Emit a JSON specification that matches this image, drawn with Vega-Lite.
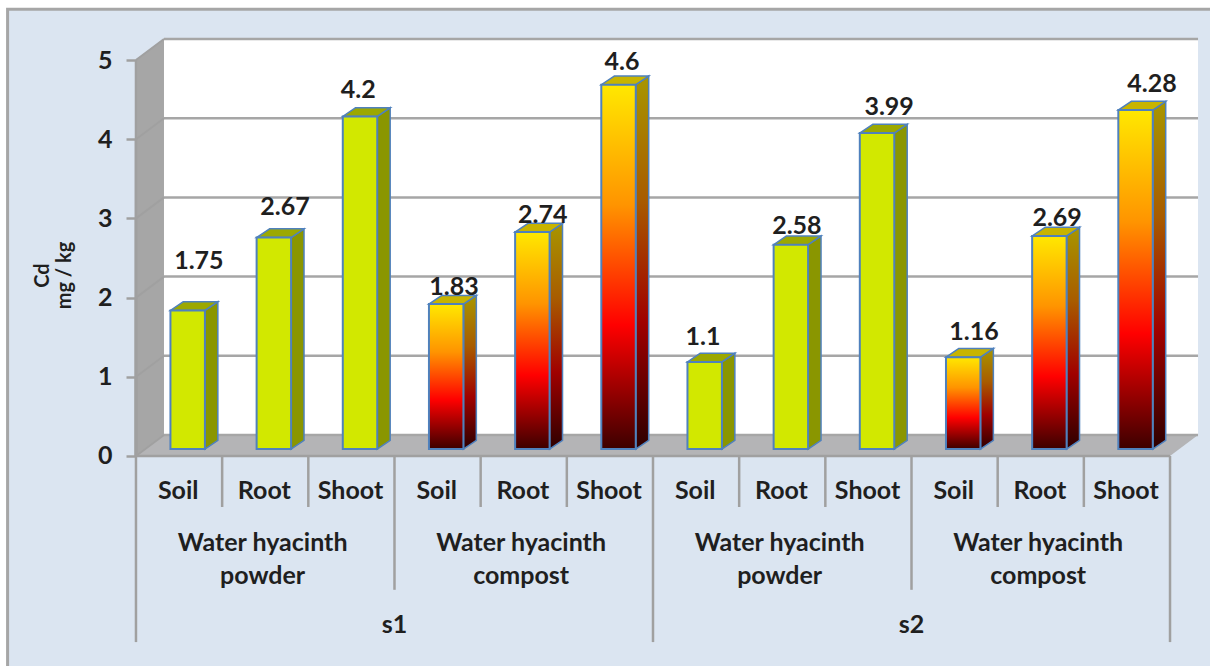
{
  "$schema": "https://vega.github.io/schema/vega-lite/v6.json",
  "width": 1210,
  "height": 666,
  "padding": 0,
  "autosize": {"type": "none"},
  "background": "#ffffff",
  "config": {"view": {"stroke": null}, "text": {"font": "Lato", "fontWeight": "bold", "color": "#1f1f1f"}},
  "resolve": {"axis": {"y": "independent", "x": "independent"}},
  "datasets": {
    "depth": [{"k": 0}, {"k": 1}],
    "levels": [{"level": 0}, {"level": 1}, {"level": 2}, {"level": 3}, {"level": 4}, {"level": 5}],
    "edges": [
      {"edge": 0, "rank": 3}, {"edge": 1, "rank": 1}, {"edge": 2, "rank": 1}, {"edge": 3, "rank": 2},
      {"edge": 4, "rank": 1}, {"edge": 5, "rank": 1}, {"edge": 6, "rank": 3}, {"edge": 7, "rank": 1},
      {"edge": 8, "rank": 1}, {"edge": 9, "rank": 2}, {"edge": 10, "rank": 1}, {"edge": 11, "rank": 1},
      {"edge": 12, "rank": 3}
    ]
  },
  "data": {
    "values": [
      {"site": "s1", "amendment": "Water hyacinth|powder", "kind": "powder", "part": "Soil", "bar": 0, "value": 1.75},
      {"site": "s1", "amendment": "Water hyacinth|powder", "kind": "powder", "part": "Root", "bar": 1, "value": 2.67},
      {"site": "s1", "amendment": "Water hyacinth|powder", "kind": "powder", "part": "Shoot", "bar": 2, "value": 4.2},
      {"site": "s1", "amendment": "Water hyacinth|compost", "kind": "compost", "part": "Soil", "bar": 3, "value": 1.83},
      {"site": "s1", "amendment": "Water hyacinth|compost", "kind": "compost", "part": "Root", "bar": 4, "value": 2.74},
      {"site": "s1", "amendment": "Water hyacinth|compost", "kind": "compost", "part": "Shoot", "bar": 5, "value": 4.6},
      {"site": "s2", "amendment": "Water hyacinth|powder", "kind": "powder", "part": "Soil", "bar": 6, "value": 1.1},
      {"site": "s2", "amendment": "Water hyacinth|powder", "kind": "powder", "part": "Root", "bar": 7, "value": 2.58},
      {"site": "s2", "amendment": "Water hyacinth|powder", "kind": "powder", "part": "Shoot", "bar": 8, "value": 3.99},
      {"site": "s2", "amendment": "Water hyacinth|compost", "kind": "compost", "part": "Soil", "bar": 9, "value": 1.16},
      {"site": "s2", "amendment": "Water hyacinth|compost", "kind": "compost", "part": "Root", "bar": 10, "value": 2.69},
      {"site": "s2", "amendment": "Water hyacinth|compost", "kind": "compost", "part": "Shoot", "bar": 11, "value": 4.28}
    ]
  },
  "transform": [
    {"calculate": "datum.bar + 0.4", "as": "left"},
    {"calculate": "datum.bar + 0.8", "as": "right"},
    {"calculate": "0.088", "as": "base"},
    {"calculate": "datum.value + 0.088", "as": "top"},
    {"calculate": "datum.bar + [0.73,0.73,0.58,0.69,0.72,0.64,0.58,0.67,0.74,0.725,0.69,0.79][datum.bar]", "as": "labelX"},
    {"calculate": "datum.top + [0.62,0.38,0.33,0.215,0.215,0.29,0.32,0.23,0.33,0.32,0.23,0.33][datum.bar]", "as": "labelY"},
    {"calculate": "datum.bar + 0.49", "as": "partX"},
    {"calculate": "-0.44", "as": "partY"}
  ],
  "layer": [
    {
      "data": {"values": [{"panel": "page"}]},
      "transform": [
        {"calculate": "-1.49", "as": "x0"}, {"calculate": "13", "as": "x1"},
        {"calculate": "5.64", "as": "y0"}, {"calculate": "-3", "as": "y1"}
      ],
      "mark": {"type": "rect", "fill": "#dbe5f1", "stroke": "#a6a6a6", "strokeWidth": 3},
      "encoding": {
        "x": {"field": "x0", "type": "quantitative", "scale": {"domain": [-1.578, 12.464], "nice": false, "zero": false}, "axis": null},
        "x2": {"field": "x1"},
        "y": {
          "field": "y0",
          "type": "quantitative",
          "scale": {"domain": [-2.652, 5.758], "nice": false, "zero": false},
          "axis": null
        },
        "y2": {"field": "y1"}
      }
    },
    {
      "data": {"values": [{"panel": "wall"}]},
      "transform": [
        {"calculate": "0.325", "as": "x0"}, {"calculate": "12.325", "as": "x1"},
        {"calculate": "5.265", "as": "y0"}, {"calculate": "0.265", "as": "y1"}
      ],
      "mark": {"type": "rect", "fill": "#ffffff"},
      "encoding": {
        "x": {"field": "x0", "type": "quantitative", "axis": null},
        "x2": {"field": "x1"},
        "y": {"field": "y0", "type": "quantitative", "axis": null},
        "y2": {"field": "y1"}
      }
    },
    {
      "data": {"name": "depth"},
      "transform": [
        {"calculate": "datum.k * 0.325", "as": "wx"},
        {"calculate": "5 + datum.k * 0.265", "as": "wy"},
        {"calculate": "datum.k * 0.265", "as": "wy2"}
      ],
      "mark": {"type": "area", "fill": "#a6a6a6", "orient": "vertical"},
      "encoding": {
        "x": {"field": "wx", "type": "quantitative", "axis": null},
        "y": {"field": "wy", "type": "quantitative", "axis": null},
        "y2": {"field": "wy2"}
      }
    },
    {
      "data": {"name": "depth"},
      "transform": [
        {"calculate": "datum.k * 0.325", "as": "fx"},
        {"calculate": "12 + datum.k * 0.325", "as": "fx2"},
        {"calculate": "datum.k * 0.265", "as": "fy"}
      ],
      "mark": {"type": "area", "fill": "#b4b4b6", "orient": "horizontal"},
      "encoding": {
        "y": {"field": "fy", "type": "quantitative", "axis": null},
        "x": {"field": "fx", "type": "quantitative", "axis": null},
        "x2": {"field": "fx2"}
      }
    },
    {
      "data": {"name": "levels"},
      "transform": [
        {"calculate": "datum.level + 0.265", "as": "backLevel"},
        {"calculate": "0.325", "as": "x0"}, {"calculate": "12.325", "as": "x1"}
      ],
      "mark": {"type": "rule", "stroke": "#a6a6a6", "strokeWidth": 2.5},
      "encoding": {
        "x": {"field": "x0", "type": "quantitative", "axis": null},
        "x2": {"field": "x1"},
        "y": {"field": "backLevel", "type": "quantitative", "axis": null}
      }
    },
    {
      "data": {"name": "levels"},
      "transform": [
        {"calculate": "datum.level + 0.265", "as": "backLevel"},
        {"calculate": "0", "as": "x0"}, {"calculate": "0.325", "as": "x1"}
      ],
      "mark": {"type": "rule", "stroke": "#a0a0a0", "strokeWidth": 2},
      "encoding": {
        "x": {"field": "x0", "type": "quantitative", "axis": null},
        "x2": {"field": "x1"},
        "y": {"field": "level", "type": "quantitative", "axis": null},
        "y2": {"field": "backLevel"}
      }
    },
    {
      "data": {"name": "levels"},
      "transform": [{"calculate": "0", "as": "x0"}, {"calculate": "0", "as": "y1"}],
      "mark": {"type": "rule", "stroke": "#a0a0a0", "strokeWidth": 2.5},
      "encoding": {
        "x": {"field": "x0", "type": "quantitative", "axis": null},
        "y": {
          "field": "level",
          "type": "quantitative",
          "axis": {
            "zindex": 1,
            "values": [0, 1, 2, 3, 4, 5],
            "format": "d",
            "offset": -136,
            "domain": false,
            "grid": false,
            "ticks": true,
            "tickSize": 10,
            "tickWidth": 2.5,
            "tickColor": "#a0a0a0",
            "labelPadding": 14,
            "labelFont": "Lato",
            "labelFontWeight": "bold",
            "labelFontSize": 25,
            "labelColor": "#1f1f1f",
            "title": ["Cd", "mg / kg"],
            "titleFont": "Lato",
            "titleFontWeight": "bold",
            "titleFontSize": 20,
            "titleColor": "#1f1f1f",
            "titleAngle": 270,
            "titleLineHeight": 22,
            "titleX": -94,
            "titleY": 275,
            "titleAlign": "center",
            "titleBaseline": "middle"
          }
        },
        "y2": {"field": "y1"}
      }
    },
    {
      "data": {"name": "edges"},
      "transform": [
        {"calculate": "[0, -0.644, -1.69, -2.35][datum.rank]", "as": "reach"},
        {"calculate": "0", "as": "y0"}
      ],
      "mark": {"type": "rule", "stroke": "#a0a0a0", "strokeWidth": 2.5},
      "encoding": {
        "x": {"field": "edge", "type": "quantitative", "axis": null},
        "y": {"field": "y0", "type": "quantitative", "axis": null},
        "y2": {"field": "reach"}
      }
    },
    {
      "data": {"values": [{"panel": "front edge"}]},
      "transform": [
        {"calculate": "0", "as": "x0"}, {"calculate": "12", "as": "x1"}, {"calculate": "0", "as": "y0"}
      ],
      "mark": {"type": "rule", "stroke": "#a0a0a0", "strokeWidth": 2.5},
      "encoding": {
        "x": {"field": "x0", "type": "quantitative", "axis": null},
        "x2": {"field": "x1"},
        "y": {"field": "y0", "type": "quantitative", "axis": null}
      }
    },
    {
      "transform": [
        {"filter": "datum.kind === 'powder'"},
        {"calculate": "[0, 1]", "as": "k"},
        {"flatten": ["k"]},
        {"calculate": "datum.right + datum.k * 0.15", "as": "sx"},
        {"calculate": "datum.top + datum.k * 0.11", "as": "sy"},
        {"calculate": "datum.base + datum.k * 0.11", "as": "sy2"}
      ],
      "mark": {"type": "area", "orient": "vertical", "fill": "#8a9600", "stroke": "#4f81bd", "strokeWidth": 1.5},
      "encoding": {
        "x": {"field": "sx", "type": "quantitative", "axis": null},
        "y": {"field": "sy", "type": "quantitative", "axis": null},
        "y2": {"field": "sy2"},
        "detail": {"field": "bar"}
      }
    },
    {
      "transform": [
        {"filter": "datum.kind === 'compost'"},
        {"calculate": "[0, 1]", "as": "k"},
        {"flatten": ["k"]},
        {"calculate": "datum.right + datum.k * 0.15", "as": "sx"},
        {"calculate": "datum.top + datum.k * 0.11", "as": "sy"},
        {"calculate": "datum.base + datum.k * 0.11", "as": "sy2"}
      ],
      "mark": {
        "type": "area",
        "orient": "vertical",
        "stroke": "#4f81bd",
        "strokeWidth": 1.5,
        "fill": {
          "gradient": "linear", "x1": 0, "y1": 0, "x2": 0, "y2": 1,
          "stops": [
            {"offset": 0, "color": "#a89600"},
            {"offset": 0.33, "color": "#a85c00"},
            {"offset": 0.66, "color": "#a00000"},
            {"offset": 1, "color": "#2c0000"}
          ]
        }
      },
      "encoding": {
        "x": {"field": "sx", "type": "quantitative", "axis": null},
        "y": {"field": "sy", "type": "quantitative", "axis": null},
        "y2": {"field": "sy2"},
        "detail": {"field": "bar"}
      }
    },
    {
      "transform": [
        {"filter": "datum.kind === 'powder'"},
        {"calculate": "[0, 1]", "as": "k"},
        {"flatten": ["k"]},
        {"calculate": "datum.left + datum.k * 0.15", "as": "tx"},
        {"calculate": "datum.right + datum.k * 0.15", "as": "tx2"},
        {"calculate": "datum.top + datum.k * 0.11", "as": "ty"}
      ],
      "mark": {"type": "area", "orient": "horizontal", "fill": "#9ca800", "stroke": "#4f81bd", "strokeWidth": 1.5},
      "encoding": {
        "y": {"field": "ty", "type": "quantitative", "axis": null},
        "x": {"field": "tx", "type": "quantitative", "axis": null},
        "x2": {"field": "tx2"},
        "detail": {"field": "bar"}
      }
    },
    {
      "transform": [
        {"filter": "datum.kind === 'compost'"},
        {"calculate": "[0, 1]", "as": "k"},
        {"flatten": ["k"]},
        {"calculate": "datum.left + datum.k * 0.15", "as": "tx"},
        {"calculate": "datum.right + datum.k * 0.15", "as": "tx2"},
        {"calculate": "datum.top + datum.k * 0.11", "as": "ty"}
      ],
      "mark": {"type": "area", "orient": "horizontal", "fill": "#c8b400", "stroke": "#4f81bd", "strokeWidth": 1.5},
      "encoding": {
        "y": {"field": "ty", "type": "quantitative", "axis": null},
        "x": {"field": "tx", "type": "quantitative", "axis": null},
        "x2": {"field": "tx2"},
        "detail": {"field": "bar"}
      }
    },
    {
      "transform": [{"filter": "datum.kind === 'powder'"}],
      "mark": {"type": "rect", "fill": "#d2e800", "stroke": "#4f81bd", "strokeWidth": 2},
      "encoding": {
        "x": {"field": "left", "type": "quantitative", "axis": null},
        "x2": {"field": "right"},
        "y": {"field": "top", "type": "quantitative", "axis": null},
        "y2": {"field": "base"}
      }
    },
    {
      "transform": [{"filter": "datum.kind === 'compost'"}],
      "mark": {
        "type": "rect",
        "stroke": "#4f81bd",
        "strokeWidth": 2,
        "fill": {
          "gradient": "linear", "x1": 0, "y1": 0, "x2": 0, "y2": 1,
          "stops": [
            {"offset": 0, "color": "#ffe800"},
            {"offset": 0.33, "color": "#ff9400"},
            {"offset": 0.66, "color": "#ff0000"},
            {"offset": 1, "color": "#3c0000"}
          ]
        }
      },
      "encoding": {
        "x": {"field": "left", "type": "quantitative", "axis": null},
        "x2": {"field": "right"},
        "y": {"field": "top", "type": "quantitative", "axis": null},
        "y2": {"field": "base"}
      }
    },
    {
      "mark": {"type": "text", "fontSize": 25, "align": "center", "baseline": "middle"},
      "encoding": {
        "x": {"field": "labelX", "type": "quantitative", "axis": null},
        "y": {"field": "labelY", "type": "quantitative", "axis": null},
        "text": {"field": "value", "type": "nominal"}
      }
    },
    {
      "mark": {"type": "text", "fontSize": 25, "align": "center", "baseline": "middle"},
      "encoding": {
        "x": {"field": "partX", "type": "quantitative", "axis": null},
        "y": {"field": "partY", "type": "quantitative", "axis": null},
        "text": {"field": "part", "type": "nominal"}
      }
    },
    {
      "transform": [
        {"aggregate": [{"op": "mean", "field": "bar", "as": "meanBar"}], "groupby": ["site", "amendment"]},
        {"calculate": "datum.meanBar + 0.47", "as": "groupX"},
        {"calculate": "-1.1", "as": "groupY"}
      ],
      "mark": {"type": "text", "fontSize": 25, "align": "center", "baseline": "middle", "lineBreak": "|", "lineHeight": 33},
      "encoding": {
        "x": {"field": "groupX", "type": "quantitative", "axis": null},
        "y": {"field": "groupY", "type": "quantitative", "axis": null},
        "text": {"field": "amendment", "type": "nominal"}
      }
    },
    {
      "transform": [
        {"aggregate": [{"op": "mean", "field": "bar", "as": "meanBar"}], "groupby": ["site"]},
        {"calculate": "datum.meanBar + 0.5", "as": "siteX"},
        {"calculate": "-2.13", "as": "siteY"}
      ],
      "mark": {"type": "text", "fontSize": 25, "align": "center", "baseline": "middle"},
      "encoding": {
        "x": {"field": "siteX", "type": "quantitative", "axis": null},
        "y": {"field": "siteY", "type": "quantitative", "axis": null},
        "text": {"field": "site", "type": "nominal"}
      }
    }
  ]
}
